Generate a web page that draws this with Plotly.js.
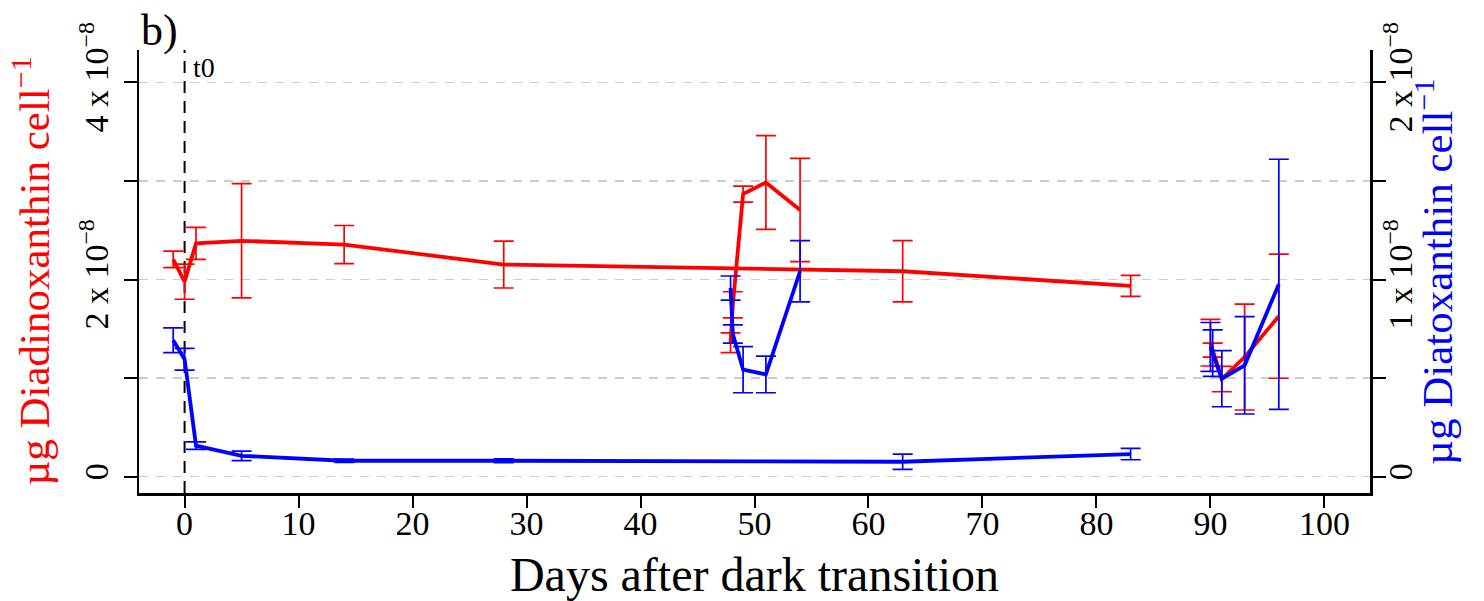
<!DOCTYPE html>
<html><head><meta charset="utf-8">
<script src="https://cdn.plot.ly/plotly-3.0.1.min.js"></script>
<style>html,body{margin:0;padding:0;background:#fff;} #chart{width:1484px;height:601px;}</style>
</head><body><div id="chart"></div>
<script>
const UNIT = 1e-8;
// values in units of 1e-8 µg per cell
// dark period
const daysDark = [-1, 0, 1, 5, 14, 28, 63, 83];
const ddxDark = [2.205, 1.978, 2.367, 2.393, 2.355, 2.152, 2.084, 1.936];
const ddxDarkErr = [0.084, 0.178, 0.162, 0.580, 0.193, 0.238, 0.311, 0.106];
const dtxDark = [0.692, 0.596, 0.158, 0.106, 0.081, 0.081, 0.076, 0.115];
const dtxDarkErr = [0.063, 0.055, 0.019, 0.024, 0.008, 0.010, 0.039, 0.029];
// first re-illumination
const daysLight1 = [47.9, 48.1, 49, 51, 54];
const ddxLight1 = [1.359, 1.744, 2.867, 2.984, 2.705];
const ddxLight1Err = [0.101, 0.132, 0.081, 0.475, 0.524];
const dtxLight1 = [0.957, 0.724, 0.543, 0.519, 1.042];
const dtxLight1Err = [0.061, 0.046, 0.117, 0.093, 0.155];
// second re-illumination
const daysLight2 = [90.0, 90.2, 91, 93, 96];
const ddxLight2 = [1.359, 1.285, 0.991, 1.214, 1.628];
const ddxLight2Err = [0.236, 0.071, 0.129, 0.537, 0.629];
const dtxLight2 = [0.658, 0.627, 0.497, 0.565, 0.976];
const dtxLight2Err = [0.124, 0.118, 0.142, 0.247, 0.634];

const xTicks = [0, 10, 20, 30, 40, 50, 60, 70, 80, 90, 100];
const leftTickVals = [0, 1, 2, 3, 4];
const leftTickText = ['0', '', '2 x 10<sup>−8</sup>', '', '4 x 10<sup>−8</sup>'];
const rightTickVals = [0, 0.5, 1, 1.5, 2];
const rightTickText = ['0', '', '1 x 10<sup>−8</sup>', '', '2 x 10<sup>−8</sup>'];

const FONT = 'Liberation Serif, Times New Roman, serif';
const RED = '#ff0000', BLUE = '#0000ff';
const sc = a => a.map(v => v * UNIT);

function seg(x, y, e, color, axis) {
  return {
    type: 'scatter', mode: 'lines', x: x, y: sc(y), yaxis: axis,
    line: {color: color, width: 3.8},
    error_y: {type: 'data', array: sc(e), visible: true, color: color, thickness: 1.7, width: 10},
    hoverinfo: 'skip', showlegend: false
  };
}

const data = [
  seg(daysDark, ddxDark, ddxDarkErr, RED, 'y'),
  seg(daysLight1, ddxLight1, ddxLight1Err, RED, 'y'),
  seg(daysLight2, ddxLight2, ddxLight2Err, RED, 'y'),
  seg(daysDark, dtxDark, dtxDarkErr, BLUE, 'y2'),
  seg(daysLight1, dtxLight1, dtxLight1Err, BLUE, 'y2'),
  seg(daysLight2, dtxLight2, dtxLight2Err, BLUE, 'y2')
];

const tickFont = {family: FONT, size: 34, color: '#000'};
const layout = {
  width: 1484, height: 601,
  margin: {l: 139, r: 114, t: 50, b: 108},
  paper_bgcolor: '#fff', plot_bgcolor: '#fff',
  showlegend: false,
  xaxis: {
    range: [-4, 104], tickvals: xTicks, ticktext: xTicks.map(String),
    ticks: 'outside', ticklen: 12, tickwidth: 2, tickcolor: '#000',
    ticklabelstandoff: -13,
    showline: true, linewidth: 2.5, linecolor: '#000', mirror: false,
    showgrid: false, zeroline: false, tickfont: tickFont,
    title: {text: 'Days after dark transition', font: {family: FONT, size: 48, color: '#000'}, standoff: 19}
  },
  yaxis: {
    range: [-0.165 * UNIT, 4.328 * UNIT], tickvals: sc(leftTickVals), ticktext: leftTickText,
    tickangle: -90, ticks: 'outside', ticklen: 13, tickwidth: 2, tickcolor: '#000',
    ticklabelstandoff: 2,
    showline: true, linewidth: 2.5, linecolor: '#000',
    showgrid: true, gridcolor: '#cccccc', gridwidth: 1.5, griddash: '9px,8px',
    zeroline: false, tickfont: tickFont
  },
  yaxis2: {
    overlaying: 'y', side: 'right',
    range: [-0.0825 * UNIT, 2.164 * UNIT], tickvals: sc(rightTickVals), ticktext: rightTickText,
    tickangle: -90, ticks: 'outside', ticklen: 13, tickwidth: 2, tickcolor: '#000',
    ticklabelstandoff: -14,
    showline: true, linewidth: 2.5, linecolor: '#000',
    showgrid: false, zeroline: false, tickfont: tickFont
  },
  shapes: [{
    type: 'line', xref: 'x', yref: 'paper', x0: 0, x1: 0, y0: 0, y1: 1,
    line: {color: '#000', width: 2, dash: '12px,8px'}, layer: 'between'
  }],
  annotations: [
    {text: 'µg Diadinoxanthin cell<sup>−1</sup>', xref: 'paper', yref: 'paper', x: -0.0885, y: 0.5,
     xanchor: 'center', yanchor: 'middle', textangle: -90, showarrow: false,
     font: {family: FONT, size: 43, color: RED}},
    {text: 'µg Diatoxanthin cell<sup>−1</sup>', xref: 'paper', yref: 'paper', x: 1.0515, y: 0.5,
     xanchor: 'center', yanchor: 'middle', textangle: -90, showarrow: false,
     font: {family: FONT, size: 43, color: BLUE}},
    {text: 'b)', xref: 'paper', yref: 'paper', x: 0, y: 1.043, xanchor: 'left', yanchor: 'middle',
     showarrow: false, font: {family: FONT, size: 44, color: '#000'}},
    {text: 't0', xref: 'x', yref: 'paper', x: 0.6, y: 0.9616, xanchor: 'left', yanchor: 'middle',
     showarrow: false, font: {family: FONT, size: 28, color: '#000'}}
  ]
};

Plotly.newPlot('chart', data, layout, {staticPlot: true, displayModeBar: false});
</script></body></html>
